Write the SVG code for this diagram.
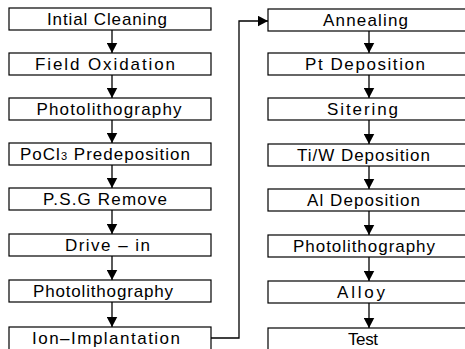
<svg xmlns="http://www.w3.org/2000/svg" width="465" height="349" viewBox="0 0 465 349">
<defs>
<style>
.box{fill:#fff;stroke:#000;stroke-width:1.2}
.t{font-family:"Liberation Sans",Arial,sans-serif;font-size:17px;fill:#000;text-anchor:middle}
.c{fill:none;stroke:#000;stroke-width:1.3}
</style>
<marker id="ah" markerUnits="userSpaceOnUse" markerWidth="11" markerHeight="11" refX="10.5" refY="5.5" orient="auto">
<path d="M0,0 L10.5,5.5 L0,11 z" fill="#000"/>
</marker>
</defs>
<rect width="465" height="349" fill="#fff"/>
<g id="connectors">
<path class="c" d="M112,30 V53" marker-end="url(#ah)"/>
<path class="c" d="M112,75 V98" marker-end="url(#ah)"/>
<path class="c" d="M112,120 V143" marker-end="url(#ah)"/>
<path class="c" d="M112,165 V188" marker-end="url(#ah)"/>
<path class="c" d="M112,210 V234" marker-end="url(#ah)"/>
<path class="c" d="M112,256 V280" marker-end="url(#ah)"/>
<path class="c" d="M112,302 V327" marker-end="url(#ah)"/>
<path class="c" d="M211,338 H239 V21 H268" marker-end="url(#ah)"/>
<path class="c" d="M369,31 V53" marker-end="url(#ah)"/>
<path class="c" d="M369,75 V98" marker-end="url(#ah)"/>
<path class="c" d="M369,120 V144" marker-end="url(#ah)"/>
<path class="c" d="M369,166 V189" marker-end="url(#ah)"/>
<path class="c" d="M369,211 V235" marker-end="url(#ah)"/>
<path class="c" d="M369,257 V281" marker-end="url(#ah)"/>
<path class="c" d="M369,303 V328" marker-end="url(#ah)"/>
</g>
<g id="n1"><rect class="box" x="9" y="8" width="202" height="22"/><text class="t" x="107" y="24.5" textLength="120" lengthAdjust="spacing">Intial Cleaning</text></g>
<g id="n2"><rect class="box" x="9" y="53" width="202" height="22"/><text class="t" x="105" y="70" textLength="140" lengthAdjust="spacing">Field Oxidation</text></g>
<g id="n3"><rect class="box" x="9" y="98" width="202" height="22"/><text class="t" x="109" y="115" textLength="145" lengthAdjust="spacing">Photolithography</text></g>
<g id="n4"><rect class="box" x="9" y="143" width="202" height="22"/><text class="t" x="105" y="160" textLength="170" lengthAdjust="spacing">PoCl<tspan font-size="11">3</tspan> Predeposition</text></g>
<g id="n5"><rect class="box" x="9" y="188" width="202" height="22"/><text class="t" x="105" y="205" textLength="124" lengthAdjust="spacing">P.S.G Remove</text></g>
<g id="n6"><rect class="box" x="9" y="234" width="202" height="22"/><text class="t" x="107.5" y="251" textLength="85" lengthAdjust="spacing">Drive – in</text></g>
<g id="n7"><rect class="box" x="9" y="280" width="202" height="22"/><text class="t" x="103" y="297" textLength="140" lengthAdjust="spacing">Photolithography</text></g>
<g id="n8"><rect class="box" x="9" y="327" width="202" height="24"/><text class="t" x="106" y="344" textLength="148" lengthAdjust="spacing">Ion–Implantation</text></g>
<g id="n9"><rect class="box" x="268" y="9" width="200" height="22"/><text class="t" x="365.5" y="25.5" textLength="85" lengthAdjust="spacing">Annealing</text></g>
<g id="n10"><rect class="box" x="268" y="53" width="200" height="22"/><text class="t" x="365" y="70" textLength="120" lengthAdjust="spacing">Pt Deposition</text></g>
<g id="n11"><rect class="box" x="268" y="98" width="200" height="22"/><text class="t" x="362.5" y="115" textLength="71" lengthAdjust="spacing">Sitering</text></g>
<g id="n12"><rect class="box" x="268" y="144" width="200" height="22"/><text class="t" x="363.5" y="161" textLength="133" lengthAdjust="spacing">Ti/W Deposition</text></g>
<g id="n13"><rect class="box" x="268" y="189" width="200" height="22"/><text class="t" x="363.5" y="206" textLength="113" lengthAdjust="spacing">Al Deposition</text></g>
<g id="n14"><rect class="box" x="268" y="235" width="200" height="22"/><text class="t" x="364" y="252" textLength="142" lengthAdjust="spacing">Photolithography</text></g>
<g id="n15"><rect class="box" x="268" y="281" width="200" height="22"/><text class="t" x="361" y="298" textLength="48" lengthAdjust="spacing">Alloy</text></g>
<g id="n16"><rect class="box" x="268" y="328" width="200" height="24"/><text class="t" x="363" y="345" textLength="30" lengthAdjust="spacing">Test</text></g>
</svg>
